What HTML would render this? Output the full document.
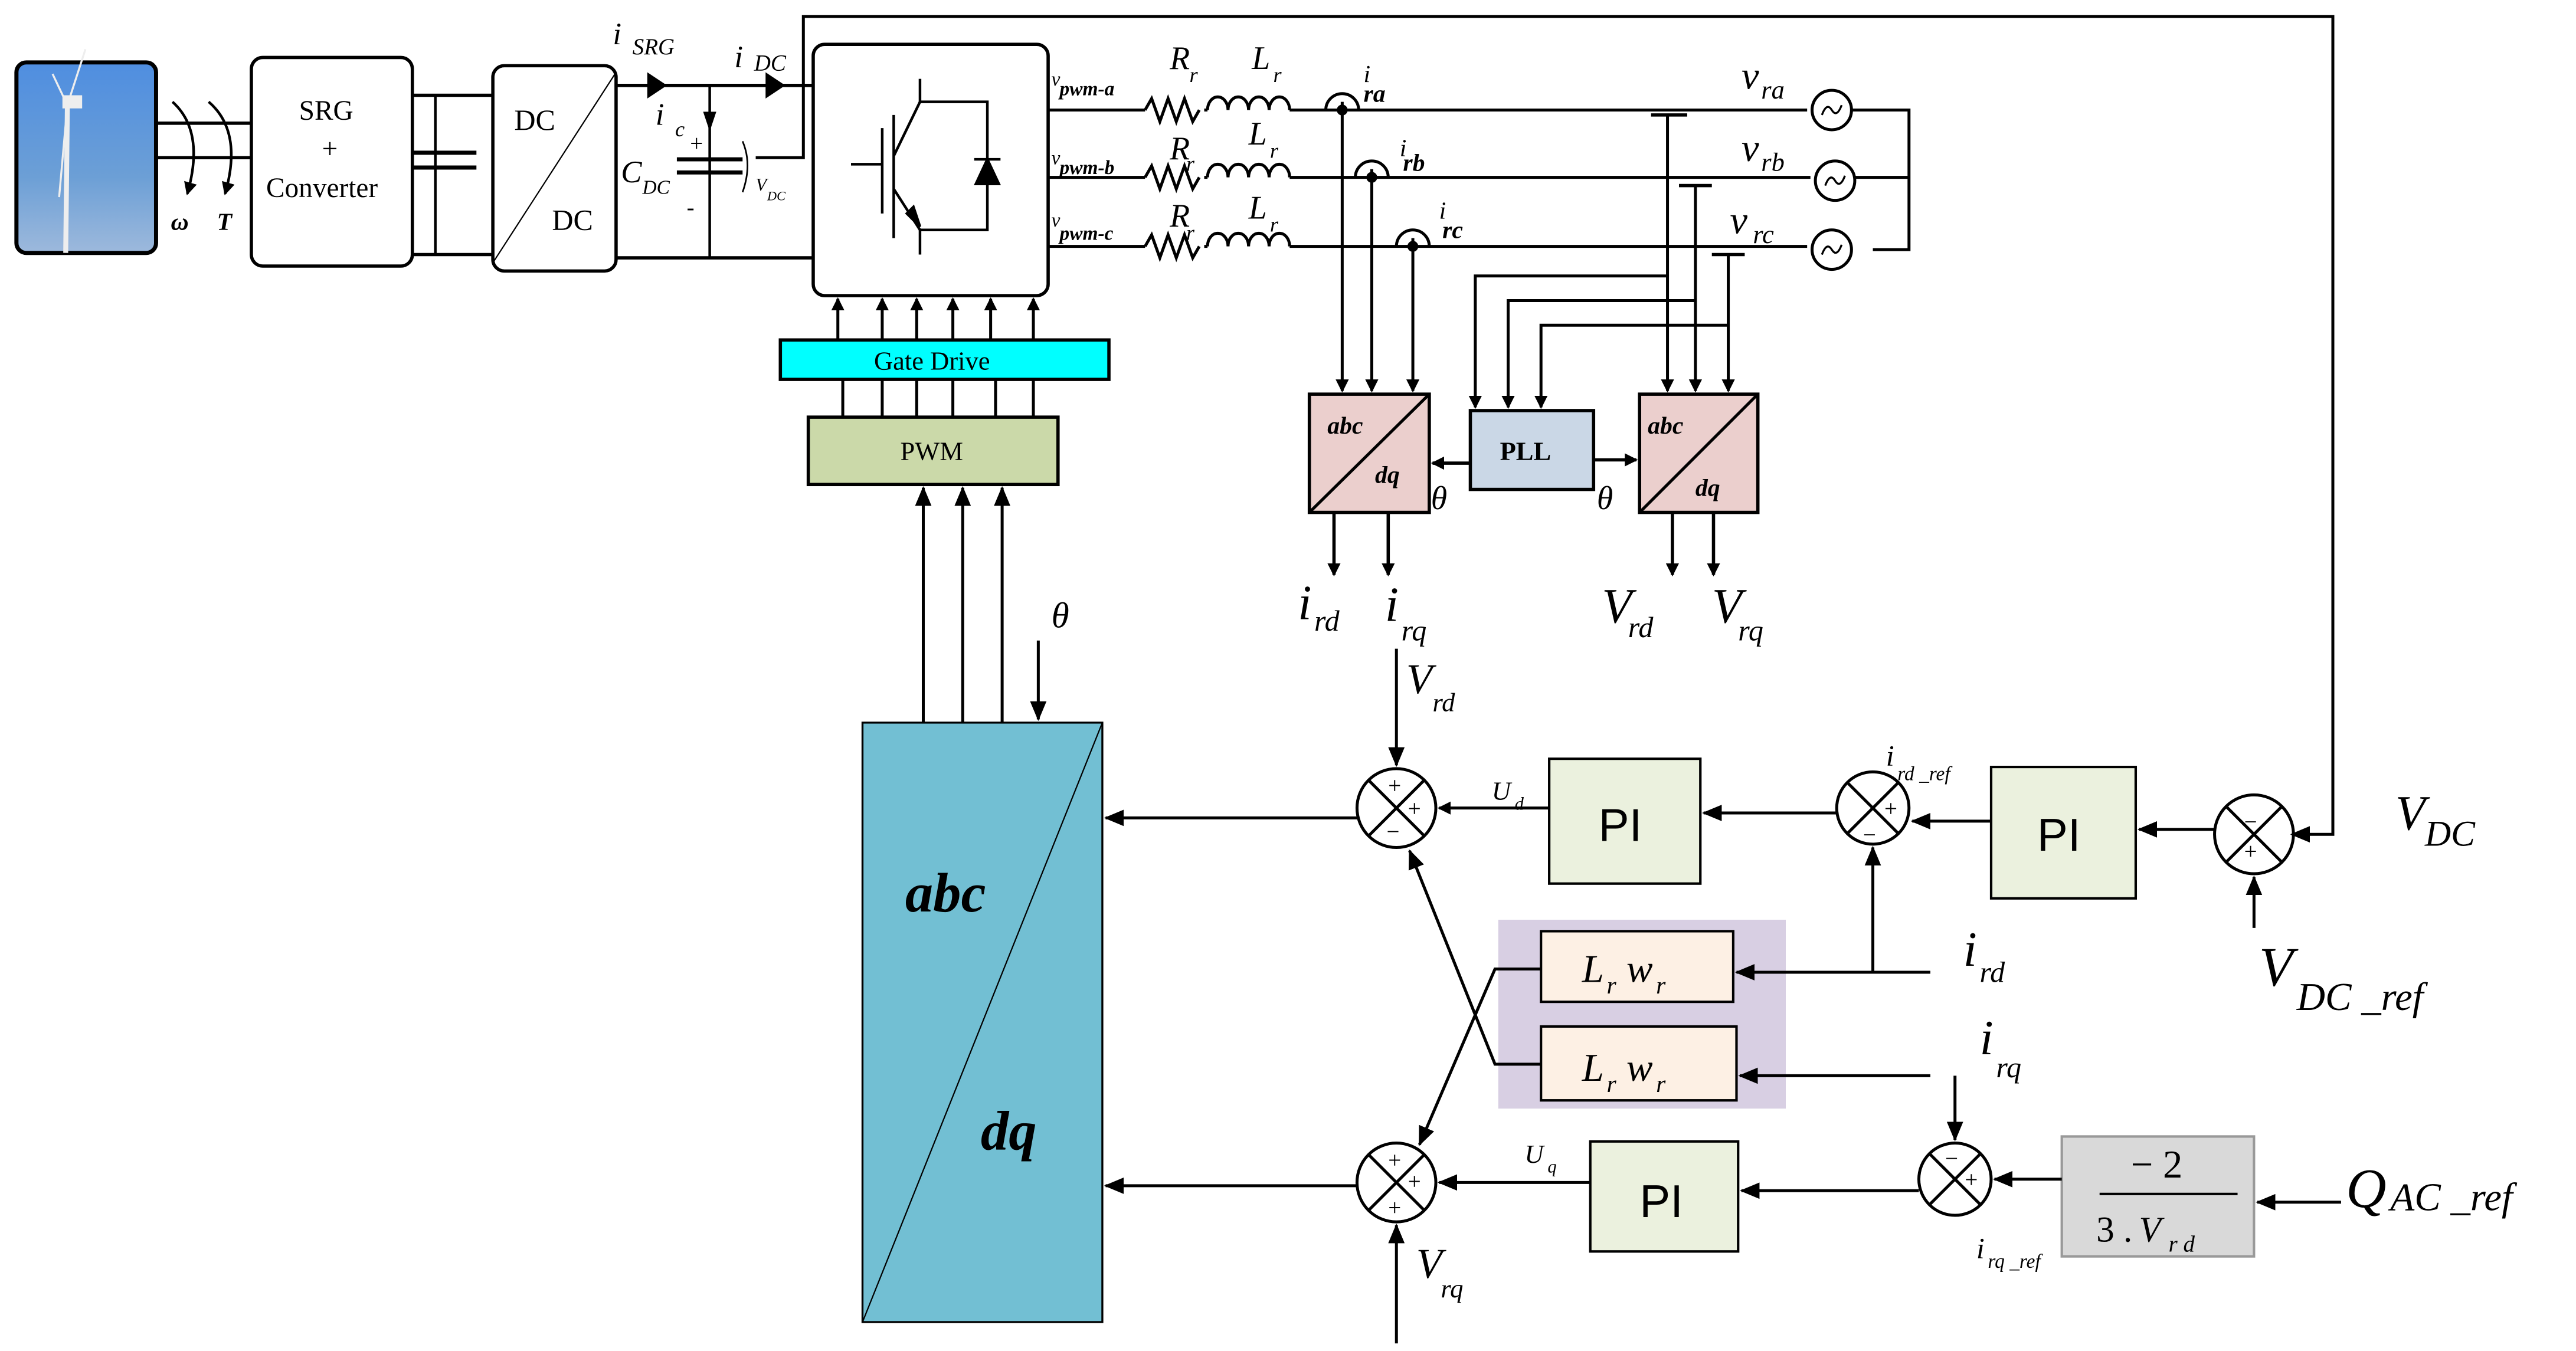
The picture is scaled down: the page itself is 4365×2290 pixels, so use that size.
<!DOCTYPE html>
<html><head><meta charset="utf-8"><style>
html,body{margin:0;padding:0;background:#fff}
svg{display:block}
text{font-family:"Liberation Serif",serif}
.i{font-style:italic}
.b{font-weight:bold}
.sans{font-family:"Liberation Sans",sans-serif}
</style></head><body>
<svg width="4365" height="2290" viewBox="0 0 1568 822.6" xmlns="http://www.w3.org/2000/svg">
<defs>
<marker id="a" markerWidth="8" markerHeight="8" refX="7" refY="4" orient="auto" markerUnits="userSpaceOnUse"><path d="M0,0 L8,4 L0,8 z" fill="#000"/></marker>
<marker id="s" markerWidth="12" markerHeight="10" refX="11" refY="5" orient="auto" markerUnits="userSpaceOnUse"><path d="M0,0 L12,5 L0,10 z" fill="#000"/></marker>
<linearGradient id="sky" x1="0" y1="0" x2="0" y2="1"><stop offset="0" stop-color="#4f8ee0"/><stop offset="0.6" stop-color="#6c9fd6"/><stop offset="1" stop-color="#9db9dc"/></linearGradient>
</defs>
<g stroke="#000" stroke-width="1.6" fill="none">
<rect x="10" y="38" width="85" height="116" rx="6" fill="url(#sky)" stroke-width="2.5"/>
<line x1="41" y1="65" x2="40" y2="154" stroke="#eee" stroke-width="3"/>
<line x1="41" y1="64" x2="52" y2="30" stroke="#eee" stroke-width="1.2"/>
<line x1="41" y1="64" x2="32" y2="45" stroke="#eee" stroke-width="1.2"/>
<line x1="41" y1="64" x2="36" y2="120" stroke="#eee" stroke-width="1.2"/>
<rect x="38" y="58" width="12" height="8" fill="#eee" stroke="none"/>
<line x1="95" y1="75" x2="153" y2="75" stroke-width="2"/>
<line x1="95" y1="96" x2="153" y2="96" stroke-width="2"/>
<path d="M105,62 Q125,80 114,118" marker-end="url(#a)"/>
<path d="M127,62 Q148,80 137,118" marker-end="url(#a)"/>
<rect x="153" y="35" width="98" height="127" rx="7" stroke-width="2"/>
<line x1="251" y1="58" x2="300" y2="58" stroke-width="2"/>
<line x1="251" y1="155" x2="300" y2="155" stroke-width="2"/>
<line x1="265" y1="58" x2="265" y2="155"/>
<line x1="251" y1="93" x2="290" y2="93" stroke-width="2.5"/>
<line x1="251" y1="102" x2="290" y2="102" stroke-width="2.5"/>
<rect x="300" y="40" width="75" height="125" rx="7" stroke-width="2"/>
<line x1="300" y1="160" x2="375" y2="44" stroke-width="0.8"/>
<line x1="375" y1="52" x2="495" y2="52" stroke-width="2"/>
<line x1="375" y1="157" x2="495" y2="157" stroke-width="2"/>
<path d="M394,44 L406,52 L394,60 z M466,44 L478,52 L466,60 z" fill="#000" stroke="none"/>
<line x1="432" y1="52" x2="432" y2="157"/>
<path d="M428,68 L436,68 L432,80 z" fill="#000" stroke="none"/>
<line x1="412" y1="97" x2="452" y2="97" stroke-width="2.5"/>
<line x1="412" y1="105" x2="452" y2="105" stroke-width="2.5"/>
<path d="M452,86 Q458,100 452,117" stroke-width="1"/>
<polyline points="460,96 489,96 489,10 1420,10 1420,508 1395,508" stroke-width="1.8" marker-end="url(#s)"/>
<rect x="495" y="27" width="143" height="153" rx="7" stroke-width="2"/>
<line x1="518" y1="100" x2="537" y2="100"/>
<line x1="537" y1="78" x2="537" y2="130"/>
<line x1="544" y1="70" x2="544" y2="145"/>
<line x1="544" y1="95" x2="560" y2="62"/><line x1="560" y1="62" x2="560" y2="48"/>
<line x1="544" y1="115" x2="560" y2="140"/><line x1="560" y1="140" x2="560" y2="155"/>
<path d="M552,130 L560,138 L556,126 z" fill="#000"/>
<polyline points="560,62 601,62 601,140 560,140"/>
<path d="M594,112 L608,112 L601,97 z" fill="#000"/>
<line x1="593" y1="97" x2="609" y2="97"/>
<g stroke-width="1.8">
<line x1="510" y1="207" x2="510" y2="182" marker-end="url(#a)"/>
<line x1="537" y1="207" x2="537" y2="182" marker-end="url(#a)"/>
<line x1="558" y1="207" x2="558" y2="182" marker-end="url(#a)"/>
<line x1="580" y1="207" x2="580" y2="182" marker-end="url(#a)"/>
<line x1="603" y1="207" x2="603" y2="182" marker-end="url(#a)"/>
<line x1="629" y1="207" x2="629" y2="182" marker-end="url(#a)"/>
<line x1="513" y1="231" x2="513" y2="254"/><line x1="537" y1="231" x2="537" y2="254"/>
<line x1="558" y1="231" x2="558" y2="254"/><line x1="580" y1="231" x2="580" y2="254"/>
<line x1="606" y1="231" x2="606" y2="254"/><line x1="629" y1="231" x2="629" y2="254"/>
</g>
<rect x="475" y="207" width="200" height="24" fill="#00ffff" stroke-width="2"/>
<rect x="492" y="254" width="152" height="41" fill="#cbd9a9" stroke-width="2"/>
<g stroke-width="1.8">
<line x1="562" y1="440" x2="562" y2="297" marker-end="url(#s)"/>
<line x1="586" y1="440" x2="586" y2="297" marker-end="url(#s)"/>
<line x1="610" y1="440" x2="610" y2="297" marker-end="url(#s)"/>
<line x1="632" y1="390" x2="632" y2="438" marker-end="url(#s)"/>
</g>
<rect x="525" y="440" width="146" height="365" fill="#72bfd3" stroke-width="1.2"/>
<line x1="525" y1="805" x2="671" y2="440" stroke-width="0.8"/>
<g stroke-width="1.8">
<line x1="638" y1="67" x2="697" y2="67"/><line x1="785" y1="67" x2="1100" y2="67"/>
<line x1="638" y1="108" x2="697" y2="108"/><line x1="785" y1="108" x2="1102" y2="108"/>
<line x1="638" y1="150" x2="697" y2="150"/><line x1="785" y1="150" x2="1100" y2="150"/>
<path d="M697,67 l4,-7 l5,14 l5,-14 l5,14 l5,-14 l5,14 l4,-7 M733,67 h2"/>
<path d="M697,108 l4,-7 l5,14 l5,-14 l5,14 l5,-14 l5,14 l4,-7 M733,108 h2"/>
<path d="M697,150 l4,-7 l5,14 l5,-14 l5,14 l5,-14 l5,14 l4,-7 M733,150 h2"/>
<path d="M735,67 a6.25,8 0 0 1 12.5,0 a6.25,8 0 0 1 12.5,0 a6.25,8 0 0 1 12.5,0 a6.25,8 0 0 1 12.5,0"/>
<path d="M735,108 a6.25,8 0 0 1 12.5,0 a6.25,8 0 0 1 12.5,0 a6.25,8 0 0 1 12.5,0 a6.25,8 0 0 1 12.5,0"/>
<path d="M735,150 a6.25,8 0 0 1 12.5,0 a6.25,8 0 0 1 12.5,0 a6.25,8 0 0 1 12.5,0 a6.25,8 0 0 1 12.5,0"/>
<path d="M807,67 a10,10 0 0 1 20,0"/><path d="M825,108 a10,10 0 0 1 20,0"/><path d="M850,150 a10,10 0 0 1 20,0"/>
<line x1="817" y1="62" x2="817" y2="238" marker-end="url(#a)"/>
<line x1="835" y1="103" x2="835" y2="238" marker-end="url(#a)"/>
<line x1="860" y1="145" x2="860" y2="238" marker-end="url(#a)"/>
<circle cx="1115" cy="67" r="12"/><circle cx="1117" cy="110" r="12"/><circle cx="1115" cy="152" r="12"/>
<polyline points="1127,67 1162,67 1162,152 1140,152"/>
<line x1="1129" y1="108" x2="1162" y2="108"/>
<line x1="1005" y1="70" x2="1027" y2="70" stroke-width="2"/>
<line x1="1022" y1="113" x2="1042" y2="113" stroke-width="2"/>
<line x1="1042" y1="155" x2="1062" y2="155" stroke-width="2"/>
<line x1="1015" y1="70" x2="1015" y2="238" marker-end="url(#a)"/>
<line x1="1032" y1="113" x2="1032" y2="238" marker-end="url(#a)"/>
<line x1="1052" y1="155" x2="1052" y2="238" marker-end="url(#a)"/>
<polyline points="1015,168 898,168 898,248" marker-end="url(#a)"/>
<polyline points="1032,183 918,183 918,248" marker-end="url(#a)"/>
<polyline points="1052,198 938,198 938,248" marker-end="url(#a)"/>
</g>
<circle cx="817" cy="67" r="2.5" fill="#000"/><circle cx="835" cy="108" r="2.5" fill="#000"/><circle cx="860" cy="150" r="2.5" fill="#000"/>
<path d="M1109,70 q3,-8 6,-3 t6,-3" stroke-width="1.2"/>
<path d="M1111,113 q3,-8 6,-3 t6,-3" stroke-width="1.2"/>
<path d="M1109,155 q3,-8 6,-3 t6,-3" stroke-width="1.2"/>
<rect x="797" y="240" width="73" height="72" fill="#ebcfcd" stroke-width="2"/>
<line x1="797" y1="312" x2="870" y2="240" stroke-width="1.8"/>
<rect x="998" y="240" width="72" height="72" fill="#ebcfcd" stroke-width="2"/>
<line x1="998" y1="312" x2="1070" y2="240" stroke-width="1.8"/>
<rect x="895" y="250" width="75" height="48" fill="#cad7e6" stroke-width="2"/>
<g stroke-width="2">
<line x1="895" y1="282" x2="872" y2="282" marker-end="url(#a)"/>
<line x1="970" y1="280" x2="996" y2="280" marker-end="url(#a)"/>
<line x1="812" y1="312" x2="812" y2="350" marker-end="url(#a)"/>
<line x1="845" y1="312" x2="845" y2="350" marker-end="url(#a)"/>
<line x1="1018" y1="312" x2="1018" y2="350" marker-end="url(#a)"/>
<line x1="1043" y1="312" x2="1043" y2="350" marker-end="url(#a)"/>
</g>
<g stroke-width="1.8">
<circle cx="850" cy="492" r="24"/><line x1="833" y1="475" x2="867" y2="509"/><line x1="867" y1="475" x2="833" y2="509"/>
<circle cx="850" cy="720" r="24"/><line x1="833" y1="703" x2="867" y2="737"/><line x1="867" y1="703" x2="833" y2="737"/>
<circle cx="1140" cy="492" r="22"/><line x1="1124" y1="476" x2="1156" y2="508"/><line x1="1156" y1="476" x2="1124" y2="508"/>
<circle cx="1372" cy="508" r="24"/><line x1="1355" y1="491" x2="1389" y2="525"/><line x1="1389" y1="491" x2="1355" y2="525"/>
<circle cx="1190" cy="718" r="22"/><line x1="1174" y1="702" x2="1206" y2="734"/><line x1="1206" y1="702" x2="1174" y2="734"/>
</g>
<rect x="912" y="560" width="175" height="115" fill="#d8cfe3" stroke="none"/>
<rect x="938" y="567" width="117" height="43" fill="#fdf0e4" stroke-width="1.5"/>
<rect x="938" y="625" width="119" height="45" fill="#fdf0e4" stroke-width="1.5"/>
<rect x="943" y="462" width="92" height="76" fill="#ebf1de" stroke-width="1.5"/>
<rect x="1212" y="467" width="88" height="80" fill="#ebf1de" stroke-width="1.5"/>
<rect x="968" y="695" width="90" height="67" fill="#ebf1de" stroke-width="1.5"/>
<rect x="1255" y="692" width="117" height="73" fill="#d9d9d9" stroke="#999" stroke-width="1.5"/>
<line x1="1278" y1="727" x2="1362" y2="727" stroke-width="1.5"/>
<g stroke-width="1.8">
<line x1="826" y1="498" x2="673" y2="498" marker-end="url(#s)"/>
<line x1="826" y1="722" x2="673" y2="722" marker-end="url(#s)"/>
<line x1="850" y1="395" x2="850" y2="466" marker-end="url(#s)"/>
<line x1="850" y1="818" x2="850" y2="746" marker-end="url(#s)"/>
<line x1="943" y1="492" x2="876" y2="492" marker-end="url(#a)"/>
<line x1="1118" y1="495" x2="1037" y2="495" marker-end="url(#s)"/>
<line x1="1212" y1="500" x2="1164" y2="500" marker-end="url(#s)"/>
<line x1="1348" y1="505" x2="1302" y2="505" marker-end="url(#s)"/>
<line x1="1372" y1="565" x2="1372" y2="534" marker-end="url(#s)"/>
<line x1="1175" y1="592" x2="1057" y2="592" marker-end="url(#s)"/>
<line x1="1140" y1="592" x2="1140" y2="516" marker-end="url(#s)"/>
<line x1="1175" y1="655" x2="1059" y2="655" marker-end="url(#s)"/>
<line x1="1190" y1="655" x2="1190" y2="694" marker-end="url(#s)"/>
<line x1="1425" y1="732" x2="1374" y2="732" marker-end="url(#s)"/>
<line x1="1255" y1="718" x2="1214" y2="718" marker-end="url(#s)"/>
<line x1="1168" y1="725" x2="1060" y2="725" marker-end="url(#s)"/>
<line x1="968" y1="720" x2="876" y2="720" marker-end="url(#s)"/>
<polyline points="938,590 910,590 864,697" marker-end="url(#s)"/>
<polyline points="938,648 910,648 858,518" marker-end="url(#s)"/>
</g>
</g>
<g fill="#000">
<text x="182" y="73" font-size="17">SRG</text>
<text x="196" y="96" font-size="17">+</text>
<text x="162" y="120" font-size="17">Converter</text>
<text x="313" y="79" font-size="18">DC</text>
<text x="336" y="140" font-size="18">DC</text>
<text x="104" y="140" font-size="15" class="i b">ω</text>
<text x="132" y="140" font-size="15" class="i b">T</text>
<text x="373" y="27" font-size="19" class="i">i</text><text x="385" y="33" font-size="14" class="i">SRG</text>
<text x="447" y="41" font-size="19" class="i">i</text><text x="459" y="43" font-size="14" class="i">DC</text>
<text x="399" y="76" font-size="19" class="i">i</text><text x="411" y="83" font-size="13" class="i">c</text>
<text x="420" y="92" font-size="14">+</text>
<text x="418" y="131" font-size="14">-</text>
<text x="378" y="111" font-size="19" class="i">C</text><text x="391" y="118" font-size="12" class="i">DC</text>
<text x="460" y="116" font-size="11" class="i">V</text><text x="467" y="122" font-size="8" class="i">DC</text>
<text x="532" y="225" font-size="16">Gate Drive</text>
<text x="548" y="280" font-size="16">PWM</text>
<text x="640" y="52" font-size="12" class="i">v</text><text x="645" y="58" font-size="12" class="i b">pwm-a</text>
<text x="640" y="100" font-size="12" class="i">v</text><text x="645" y="106" font-size="12" class="i b">pwm-b</text>
<text x="640" y="138" font-size="12" class="i">v</text><text x="645" y="146" font-size="12" class="i b">pwm-c</text>
<text x="712" y="42" font-size="20" class="i">R</text><text x="724" y="50" font-size="13" class="i">r</text>
<text x="762" y="42" font-size="20" class="i">L</text><text x="775" y="50" font-size="13" class="i">r</text>
<text x="712" y="97" font-size="20" class="i">R</text><text x="722" y="104" font-size="13" class="i">r</text>
<text x="760" y="88" font-size="20" class="i">L</text><text x="773" y="96" font-size="13" class="i">r</text>
<text x="712" y="138" font-size="20" class="i">R</text><text x="722" y="146" font-size="13" class="i">r</text>
<text x="760" y="133" font-size="20" class="i">L</text><text x="773" y="141" font-size="13" class="i">r</text>
<text x="830" y="50" font-size="15" class="i">i</text><text x="830" y="62" font-size="15" class="i b">ra</text>
<text x="852" y="95" font-size="15" class="i">i</text><text x="854" y="104" font-size="15" class="i b">rb</text>
<text x="876" y="133" font-size="15" class="i">i</text><text x="878" y="145" font-size="15" class="i b">rc</text>
<text x="1060" y="54" font-size="24" class="i">v</text><text x="1072" y="60" font-size="16" class="i">ra</text>
<text x="1060" y="98" font-size="24" class="i">v</text><text x="1072" y="104" font-size="16" class="i">rb</text>
<text x="1053" y="142" font-size="24" class="i">v</text><text x="1067" y="148" font-size="16" class="i">rc</text>
<text x="808" y="264" font-size="15" class="i b">abc</text><text x="837" y="294" font-size="15" class="i b">dq</text>
<text x="1003" y="264" font-size="15" class="i b">abc</text><text x="1032" y="302" font-size="15" class="i b">dq</text>
<text x="913" y="280" font-size="16" class="b">PLL</text>
<text x="871" y="310" font-size="20" class="i">θ</text>
<text x="972" y="310" font-size="20" class="i">θ</text>
<text x="790" y="377" font-size="30" class="i">i</text><text x="800" y="384" font-size="18" class="i">rd</text>
<text x="843" y="378" font-size="30" class="i">i</text><text x="853" y="390" font-size="18" class="i">rq</text>
<text x="975" y="379" font-size="30" class="i">V</text><text x="991" y="388" font-size="18" class="i">rd</text>
<text x="1042" y="379" font-size="30" class="i">V</text><text x="1058" y="390" font-size="18" class="i">rq</text>
<text x="640" y="382" font-size="22" class="i">θ</text>
<text x="551" y="555" font-size="34" class="i b">abc</text>
<text x="597" y="700" font-size="34" class="i b">dq</text>
<text x="856" y="422" font-size="26" class="i">V</text><text x="872" y="433" font-size="16" class="i">rd</text>
<text x="862" y="778" font-size="26" class="i">V</text><text x="877" y="790" font-size="16" class="i">rq</text>
<text x="908" y="487" font-size="16" class="i">U</text><text x="922" y="493" font-size="11" class="i">d</text>
<text x="928" y="708" font-size="16" class="i">U</text><text x="942" y="714" font-size="11" class="i">q</text>
<text x="973" y="512" font-size="28" class="sans">PI</text>
<text x="1240" y="518" font-size="28" class="sans">PI</text>
<text x="998" y="741" font-size="28" class="sans">PI</text>
<text x="1148" y="466" font-size="18" class="i">i</text><text x="1155" y="475" font-size="12" class="i">rd _ref</text>
<text x="1203" y="766" font-size="18" class="i">i</text><text x="1210" y="772" font-size="12" class="i">rq _ref</text>
<text x="1458" y="505" font-size="30" class="i">V</text><text x="1476" y="515" font-size="22" class="i">DC</text>
<text x="1375" y="600" font-size="34" class="i">V</text><text x="1398" y="615" font-size="24" class="i">DC _ref</text>
<text x="1195" y="588" font-size="30" class="i">i</text><text x="1205" y="598" font-size="18" class="i">rd</text>
<text x="1205" y="642" font-size="30" class="i">i</text><text x="1215" y="656" font-size="18" class="i">rq</text>
<text x="1428" y="735" font-size="34" class="i">Q</text><text x="1455" y="737" font-size="24" class="i">AC _ref</text>
<text x="1297" y="717" font-size="24">− 2</text>
<text x="1276" y="756" font-size="22">3 .</text><text x="1302" y="756" font-size="22" class="i">V</text><text x="1320" y="762" font-size="14" class="i">r d</text>
<text x="963" y="598" font-size="24" class="i">L</text><text x="978" y="605" font-size="15" class="i">r</text><text x="990" y="598" font-size="24" class="i">w</text><text x="1008" y="605" font-size="15" class="i">r</text>
<text x="963" y="658" font-size="24" class="i">L</text><text x="978" y="665" font-size="15" class="i">r</text><text x="990" y="658" font-size="24" class="i">w</text><text x="1008" y="665" font-size="15" class="i">r</text>
<g font-size="14">
<text x="845" y="483">+</text><text x="857" y="497">+</text><text x="844" y="511">−</text>
<text x="845" y="711">+</text><text x="857" y="724">+</text><text x="845" y="740">+</text>
<text x="1147" y="497">+</text><text x="1134" y="513">−</text>
<text x="1366" y="505">−</text><text x="1366" y="523">+</text>
<text x="1184" y="710">−</text><text x="1196" y="723">+</text>
</g>
</g>
</svg>
</body></html>
